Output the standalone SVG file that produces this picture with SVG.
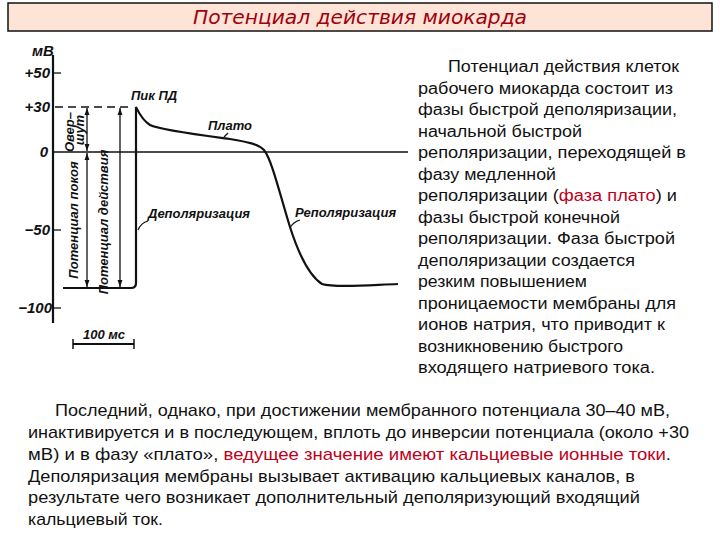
<svg xmlns="http://www.w3.org/2000/svg" width="720" height="540" viewBox="0 0 720 540">
<defs>
<style>
.lbl{font-family:"Liberation Sans",Arial,sans-serif;font-style:italic;font-weight:bold;font-size:13px;fill:#111}
.ax{font-family:"Liberation Sans",Arial,sans-serif;font-style:italic;font-weight:bold;font-size:15px;fill:#111}
.body{font-family:"Liberation Sans",Arial,sans-serif;font-size:16px;fill:#111}
.red{fill:#c0001a}
.thin{stroke:#111;stroke-width:1.3;fill:none}
.thick{stroke:#111;stroke-width:2.2;fill:none}
</style>
<marker id="ah" viewBox="0 0 10 10" refX="10" refY="5" markerWidth="7" markerHeight="7" orient="auto-start-reverse" markerUnits="userSpaceOnUse">
<path d="M0,1.5 L10,5 L0,8.5 Z" fill="#111"/>
</marker>
</defs>
<rect width="720" height="540" fill="#ffffff"/>
<g id="title">
<rect x="8" y="3" width="704" height="28" fill="#fde4d6" stroke="#111" stroke-width="1.5"/>
<text x="360" y="24" text-anchor="middle" font-family="'DejaVu Sans',sans-serif" font-style="italic" font-size="19" fill="#a00010" textLength="334" lengthAdjust="spacingAndGlyphs">Потенциал действия миокарда</text>
</g>
<g id="axes">
<line x1="53" y1="55" x2="53" y2="323" class="thick"/>
<line x1="53" y1="73" x2="61" y2="73" class="thin"/>
<line x1="53" y1="230" x2="61" y2="230" class="thin"/>
<line x1="53" y1="308" x2="61" y2="308" class="thin"/>
<line x1="53" y1="152" x2="408" y2="152" class="thin"/>
<line x1="55" y1="107" x2="133" y2="107" stroke="#111" stroke-width="1.6" stroke-dasharray="8,5"/>
<text x="32" y="56" class="ax">мВ</text>
<text x="50" y="78" class="ax" text-anchor="end">+50</text>
<text x="50" y="112" class="ax" text-anchor="end">+30</text>
<text x="48" y="157" class="ax" text-anchor="end">0</text>
<text x="50" y="235" class="ax" text-anchor="end">−50</text>
<text x="52" y="313" class="ax" text-anchor="end">−100</text>
</g>
<g id="curve">
<path d="M63,288 L131,288 Q136,288 136,283 L136,107 C139,113 142,120 150,125 C160,130 200,135 230,139 C248,142 258,144 264,150 C272,160 280,195 290,227 C298,252 308,275 322,284 C335,288 370,285 398,284" class="thick"/>
</g>
<g id="arrows">
<line x1="87" y1="108" x2="87" y2="151" class="thin" marker-start="url(#ah)" marker-end="url(#ah)"/>
<line x1="87" y1="153" x2="87" y2="287" class="thin" marker-start="url(#ah)" marker-end="url(#ah)"/>
<line x1="120" y1="108" x2="120" y2="287" class="thin" marker-start="url(#ah)" marker-end="url(#ah)"/>
</g>
<g id="vlabels">
<text class="lbl" transform="translate(74,132) rotate(-90)" text-anchor="middle">Овер–</text>
<text class="lbl" transform="translate(84,130) rotate(-90)" text-anchor="middle">шут</text>
<text class="lbl" transform="translate(78,220) rotate(-90)" text-anchor="middle">Потенциал покоя</text>
<text class="lbl" transform="translate(108,222) rotate(-90)" text-anchor="middle">Потенциал действия</text>
</g>
<g id="labels">
<text x="131" y="100" class="lbl">Пик ПД</text>
<text x="208" y="130" class="lbl">Плато</text>
<path d="M228,133 L224,137" class="thin"/>
<text x="148" y="218" class="lbl">Деполяризация</text>
<path d="M148,221 Q141,223 138,230" class="thin"/>
<text x="295" y="217" class="lbl">Реполяризация</text>
<path d="M300,220 Q293,222 290,228" class="thin"/>
</g>
<g id="scale">
<line x1="73" y1="344" x2="134" y2="344" stroke="#111" stroke-width="1.8"/>
<line x1="73" y1="339" x2="73" y2="349" stroke="#111" stroke-width="1.5"/>
<line x1="134" y1="339" x2="134" y2="349" stroke="#111" stroke-width="1.5"/>
<text x="104" y="339" class="lbl" text-anchor="middle">100 мс</text>
</g>
<g id="right-text" class="body">
<text x="448" y="72" textLength="231" lengthAdjust="spacingAndGlyphs">Потенциал действия клеток</text>
<text x="418" y="93.5" textLength="255" lengthAdjust="spacingAndGlyphs">рабочего миокарда состоит из</text>
<text x="418" y="115" textLength="259" lengthAdjust="spacingAndGlyphs">фазы быстрой деполяризации,</text>
<text x="418" y="136.5" textLength="164" lengthAdjust="spacingAndGlyphs">начальной быстрой</text>
<text x="418" y="158" textLength="268" lengthAdjust="spacingAndGlyphs">реполяризации, переходящей в</text>
<text x="418" y="179.5" textLength="138" lengthAdjust="spacingAndGlyphs">фазу медленной</text>
<text x="418" y="201" textLength="259" lengthAdjust="spacingAndGlyphs">реполяризации (<tspan class="red">фаза плато</tspan>) и</text>
<text x="418" y="222.5" textLength="202" lengthAdjust="spacingAndGlyphs">фазы быстрой конечной</text>
<text x="418" y="244" textLength="257" lengthAdjust="spacingAndGlyphs">реполяризации. Фаза быстрой</text>
<text x="418" y="265.5" textLength="217" lengthAdjust="spacingAndGlyphs">деполяризации создается</text>
<text x="418" y="287" textLength="169" lengthAdjust="spacingAndGlyphs">резким повышением</text>
<text x="418" y="308.5" textLength="258" lengthAdjust="spacingAndGlyphs">проницаемости мембраны для</text>
<text x="418" y="330" textLength="247" lengthAdjust="spacingAndGlyphs">ионов натрия, что приводит к</text>
<text x="418" y="351.5" textLength="205" lengthAdjust="spacingAndGlyphs">возникновению быстрого</text>
<text x="418" y="373" textLength="237" lengthAdjust="spacingAndGlyphs">входящего натриевого тока.</text>
</g>
<g id="bottom-text" class="body">
<text x="55" y="416" font-size="17" textLength="615" lengthAdjust="spacingAndGlyphs">Последний, однако, при достижении мембранного потенциала 30–40 мВ,</text>
<text x="28" y="438" font-size="17" textLength="661" lengthAdjust="spacingAndGlyphs">инактивируется и в последующем, вплоть до инверсии потенциала (около +30</text>
<text x="28" y="460" font-size="17" textLength="643" lengthAdjust="spacingAndGlyphs">мВ) и в фазу «плато», <tspan class="red">ведущее значение имеют кальциевые ионные токи</tspan>.</text>
<text x="28" y="481.5" font-size="17" textLength="607" lengthAdjust="spacingAndGlyphs">Деполяризация мембраны вызывает активацию кальциевых каналов, в</text>
<text x="28" y="503" font-size="17" textLength="612" lengthAdjust="spacingAndGlyphs">результате чего возникает дополнительный деполяризующий входящий</text>
<text x="28" y="524.5" font-size="17" textLength="135" lengthAdjust="spacingAndGlyphs">кальциевый ток.</text>
</g>
</svg>
